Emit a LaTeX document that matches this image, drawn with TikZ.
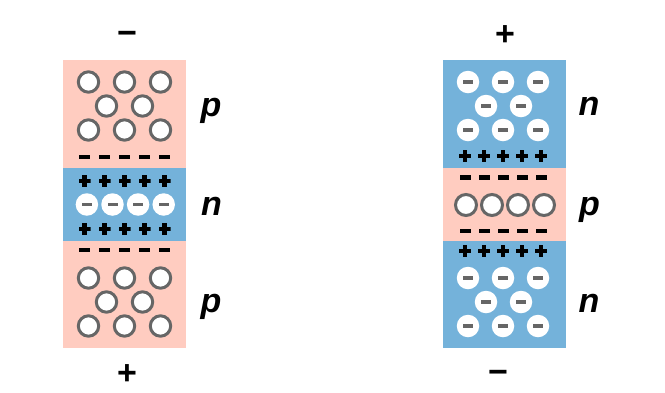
\documentclass[tikz,border=0pt]{standalone}
\usepackage{fontspec}
\setmainfont{Liberation Sans}
\definecolor{pinkreg}{RGB}{255,204,192}
\definecolor{bluereg}{RGB}{116,178,218}
\definecolor{ringgray}{RGB}{102,102,102}
\begin{document}
\begin{tikzpicture}[x=1pt,y=-1pt,
  region/.style={inner sep=0pt, outer sep=0pt, anchor=north west, minimum width=123pt},
  pinkbox/.style={region, fill=pinkreg},
  bluebox/.style={region, fill=bluereg},
  hole/.style={circle, draw=ringgray, line width=3pt, fill=white, minimum size=20.4pt, inner sep=0pt},
  electron/.style={circle, fill=white, minimum size=22.5pt, inner sep=0pt,
    path picture={\fill[ringgray] ([xshift=-5pt,yshift=-1.9pt]path picture bounding box.center) rectangle ++(10pt,3.8pt);}},
  plusmark/.style={minimum width=12pt, minimum height=12pt, inner sep=0pt,
    path picture={\fill[black] ([xshift=-6pt,yshift=-2.25pt]path picture bounding box.center) rectangle ++(12pt,4.5pt);
                  \fill[black] ([xshift=-2.25pt,yshift=-6pt]path picture bounding box.center) rectangle ++(4.5pt,12pt);}},
  dashmark/.style={rectangle, fill=black, minimum width=11pt, minimum height=4.3pt, inner sep=0pt},
  typelabel/.style={font=\fontsize{34}{38}\selectfont\bfseries\itshape, inner sep=0pt, anchor=base},
  signlabel/.style={font=\fontsize{34}{38}\selectfont\bfseries, inner sep=0pt}
]
\useasboundingbox (0,0) rectangle (665,392);

% ---------- left column ----------
\node[pinkbox, minimum height=108pt] (Lp1) at (63,60) {};
\node[bluebox, minimum height=73pt] (Ln) at (63,168) {};
\node[pinkbox, minimum height=107pt] (Lp2) at (63,241) {};

\foreach \y/\r in {82/a,130/c,278/d,326/f}
  \foreach \x [count=\i] in {88.5,124.5,160.5}
    \node[hole] (Lh\r\i) at (\x,\y) {};
\foreach \y/\r in {106/b,302/e}
  \foreach \x [count=\i] in {106.5,142.5}
    \node[hole] (Lh\r\i) at (\x,\y) {};

\foreach \x [count=\i] in {84.5,104.5,124.5,144.5,164.5} {
  \node[dashmark] (Lda\i) at (\x,157) {};
  \node[plusmark] (Lpa\i) at (\x,181) {};
  \node[plusmark] (Lpb\i) at (\x,229) {};
  \node[dashmark] (Ldb\i) at (\x,250) {};
}
\foreach \x [count=\i] in {86.9,112.5,138.1,163.7}
  \node[electron] (Le\i) at (\x,204.5) {};

\node[typelabel] (Llp1) at (211,116.5) {p};
\node[typelabel] (Lln) at (211.5,215) {n};
\node[typelabel] (Llp2) at (211,312) {p};

\node[signlabel] (Lminus) at (127,38) {−};
\node[signlabel] (Lplus) at (127,375) {+};

% ---------- right column ----------
\node[bluebox, minimum height=108pt] (Rn1) at (443,60) {};
\node[pinkbox, minimum height=73pt] (Rp) at (443,168) {};
\node[bluebox, minimum height=107pt] (Rn2) at (443,241) {};

\foreach \y/\r in {82/a,130/c,278/d,326/f}
  \foreach \x [count=\i] in {468,503,538}
    \node[electron] (Re\r\i) at (\x,\y) {};
\foreach \y/\r in {106/b,302/e}
  \foreach \x [count=\i] in {486,521}
    \node[electron] (Re\r\i) at (\x,\y) {};

\foreach \x [count=\i] in {465,484,503,522,541} {
  \node[plusmark] (Rpa\i) at (\x,156) {};
  \node[dashmark] (Rda\i) at (\x,177.5) {};
  \node[dashmark] (Rdb\i) at (\x,231) {};
  \node[plusmark] (Rpb\i) at (\x,251) {};
}
\foreach \x [count=\i] in {466,492,518,544}
  \node[hole, minimum size=21pt] (Rh\i) at (\x,205) {};

\node[typelabel] (Rln1) at (589,115.5) {n};
\node[typelabel] (Rlp) at (589.5,215) {p};
\node[typelabel] (Rln2) at (589,312) {n};

\node[signlabel] (Rplus) at (505,36) {+};
\node[signlabel] (Rminus) at (498,377) {−};
\end{tikzpicture}
\end{document}
